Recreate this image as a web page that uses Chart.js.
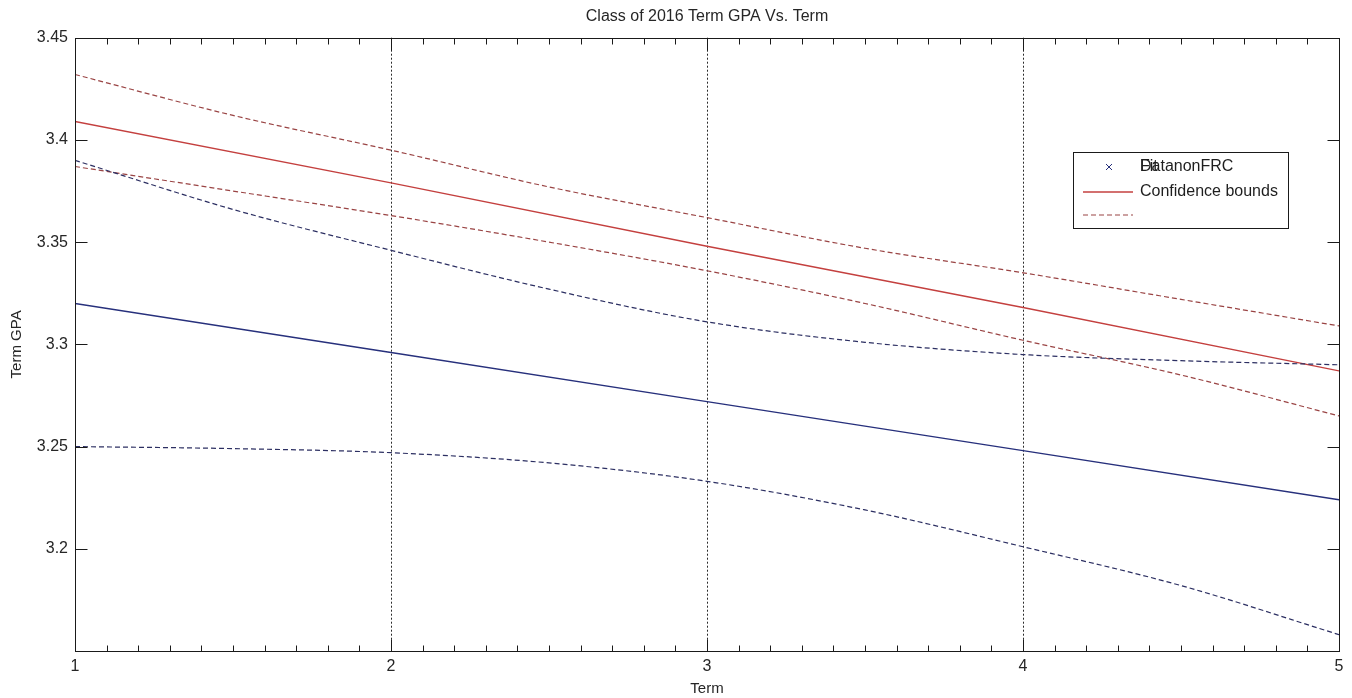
<!DOCTYPE html>
<html>
<head>
<meta charset="utf-8">
<title>Class of 2016 Term GPA Vs. Term</title>
<script src="https://cdn.jsdelivr.net/npm/chart.js@4.4.1/dist/chart.umd.min.js"></script>
<style>
  html, body { margin: 0; padding: 0; background: #fff; }
  #wrap { width: 1352px; height: 698px; position: relative; }
</style>
</head>
<body>
<div id="wrap"><canvas id="gpaChart"></canvas></div>
<script>
// terms where the curves were sampled
const TERMS = [1, 1.5, 2, 2.5, 3, 3.5, 4, 4.5, 5];
const FIT_TERMS = [1, 2, 3, 4, 5];

// nonFRC fit (blue) with its confidence bounds
const NONFRC_FIT   = [3.320, 3.296, 3.272, 3.248, 3.224];
const NONFRC_UPPER = [3.390, 3.366, 3.346, 3.327, 3.311, 3.301, 3.295, 3.292, 3.290];
const NONFRC_LOWER = [3.250, 3.249, 3.247, 3.242, 3.233, 3.219, 3.201, 3.182, 3.158];

// FRC fit (red) with its confidence bounds
const FRC_FIT   = [3.409, 3.379, 3.348, 3.318, 3.287];
const FRC_UPPER = [3.432, 3.412, 3.395, 3.377, 3.362, 3.347, 3.335, 3.322, 3.309];
const FRC_LOWER = [3.387, 3.375, 3.363, 3.350, 3.336, 3.320, 3.302, 3.285, 3.265];

const X_MIN = 1, X_MAX = 5;
const Y_MIN = 3.15, Y_MAX = 3.45, Y_STEP = 0.05;

const LEGEND_LABELS = ['DatanonFRC', 'Confidence bounds', ''];
const LEGEND_OVER = 'Fit'; // second string printed on top of the first entry

const FONT = '"Liberation Sans", Arial, sans-serif';
const TXT = '#262626';
const BLUE = '#27307c', BLUE_DASH = '#2c2f62';
const RED = '#c4403f', RED_DASH = '#9a4444';
const DASH = [5, 3];

const pts = (xs, ys) => xs.map((x, i) => ({ x, y: ys[i] }));

function lineSet(label, data, color, dashed) {
    return {
        label,
        data,
        borderColor: color,
        backgroundColor: color,
        borderWidth: dashed ? 1.2 : 1.4,
        borderDash: dashed ? DASH : [],
        pointRadius: 0,
        fill: false,
        cubicInterpolationMode: dashed ? 'monotone' : 'default'
    };
}

// box, ticks, grid and legend in the old matlab look
const matlabAxes = {
    id: 'matlabAxes',
    beforeDatasetsDraw(chart) {
        const { ctx, chartArea: a, scales: { x } } = chart;
        ctx.save();
        ctx.strokeStyle = '#2a2a2a';
        ctx.lineWidth = 1;
        ctx.setLineDash([2, 2]);
        for (let t = X_MIN + 1; t < X_MAX; t++) {
            const px = Math.round(x.getPixelForValue(t)) + 0.5;
            ctx.beginPath();
            ctx.moveTo(px, a.top);
            ctx.lineTo(px, a.bottom);
            ctx.stroke();
        }
        ctx.restore();
    },
    afterDatasetsDraw(chart) {
        const { ctx, chartArea: a, scales: { x, y } } = chart;
        ctx.save();
        ctx.strokeStyle = '#1a1a1a';
        ctx.lineWidth = 1;
        ctx.setLineDash([]);
        const L = Math.round(a.left) + 0.5, R = Math.round(a.right) + 0.5;
        const T = Math.round(a.top) + 0.5, B = Math.round(a.bottom) + 0.5;
        ctx.strokeRect(L, T, R - L, B - T);

        ctx.beginPath();
        // y ticks, both sides
        y.ticks.forEach(tk => {
            const py = Math.round(y.getPixelForValue(tk.value)) + 0.5;
            ctx.moveTo(L, py); ctx.lineTo(L + 12, py);
            ctx.moveTo(R, py); ctx.lineTo(R - 12, py);
        });
        // x ticks every 0.1, top and bottom
        for (let i = X_MIN * 10; i <= X_MAX * 10; i++) {
            const px = Math.round(x.getPixelForValue(i / 10)) + 0.5;
            const len = i % 10 === 0 ? 12 : 6;
            ctx.moveTo(px, B); ctx.lineTo(px, B - len);
            ctx.moveTo(px, T); ctx.lineTo(px, T + len);
        }
        ctx.stroke();
        ctx.restore();
    },
    afterDraw(chart) {
        const { ctx } = chart;
        const bx = 1073.5, by = 152.5, bw = 215, bh = 76;
        ctx.save();
        ctx.fillStyle = '#fff';
        ctx.fillRect(bx, by, bw, bh);
        ctx.strokeStyle = '#1a1a1a';
        ctx.lineWidth = 1;
        ctx.strokeRect(bx, by, bw, bh);

        const rows = [167, 192, 215];
        const x0 = 1083, x1 = 1133, tx = 1140;

        // data marker
        ctx.strokeStyle = BLUE;
        ctx.beginPath();
        ctx.moveTo(1106, rows[0] - 3); ctx.lineTo(1112, rows[0] + 3);
        ctx.moveTo(1112, rows[0] - 3); ctx.lineTo(1106, rows[0] + 3);
        ctx.stroke();

        ctx.lineWidth = 1.4;
        ctx.strokeStyle = RED;
        ctx.beginPath(); ctx.moveTo(x0, rows[1]); ctx.lineTo(x1, rows[1]); ctx.stroke();
        ctx.lineWidth = 1.2;
        ctx.strokeStyle = RED_DASH;
        ctx.setLineDash(DASH);
        ctx.beginPath(); ctx.moveTo(x0, rows[2]); ctx.lineTo(x1, rows[2]); ctx.stroke();
        ctx.setLineDash([]);

        ctx.font = '16px ' + FONT;
        ctx.fillStyle = '#1e1e1e';
        ctx.textBaseline = 'middle';
        ctx.textAlign = 'left';
        LEGEND_LABELS.forEach((lbl, i) => { if (lbl) ctx.fillText(lbl, tx, rows[i]); });
        ctx.fillText(LEGEND_OVER, tx, rows[0]);
        ctx.restore();
    }
};

new Chart(document.getElementById('gpaChart'), {
    type: 'line',
    data: {
        datasets: [
            lineSet('nonFRC lower', pts(TERMS, NONFRC_LOWER), BLUE_DASH, true),
            lineSet('nonFRC upper', pts(TERMS, NONFRC_UPPER), BLUE_DASH, true),
            lineSet('nonFRC fit', pts(FIT_TERMS, NONFRC_FIT), BLUE, false),
            lineSet('FRC lower', pts(TERMS, FRC_LOWER), RED_DASH, true),
            lineSet('FRC upper', pts(TERMS, FRC_UPPER), RED_DASH, true),
            lineSet('FRC fit', pts(FIT_TERMS, FRC_FIT), RED, false)
        ]
    },
    plugins: [matlabAxes],
    options: {
        responsive: true,
        maintainAspectRatio: false,
        animation: false,
        parsing: true,
        layout: { padding: { top: 0, right: 13, bottom: 0, left: 0 } },
        plugins: {
            legend: { display: false },
            tooltip: { enabled: false },
            title: {
                display: true,
                fullSize: false,
                text: 'Class of 2016 Term GPA Vs. Term',
                color: TXT,
                font: { family: FONT, size: 16, weight: 'normal' },
                padding: { top: 7, bottom: 11.5 }
            }
        },
        scales: {
            x: {
                type: 'linear',
                min: X_MIN,
                max: X_MAX,
                afterFit: s => { s.height = 47; },
                grid: { display: false, drawTicks: false },
                border: { display: false },
                ticks: {
                    stepSize: 1,
                    padding: 6,
                    color: TXT,
                    font: { family: FONT, size: 16 }
                },
                title: {
                    display: true,
                    text: 'Term',
                    color: TXT,
                    font: { family: FONT, size: 15 },
                    padding: { top: 0, bottom: 0 }
                }
            },
            y: {
                type: 'linear',
                min: Y_MIN,
                max: Y_MAX,
                afterFit: s => { s.width = 75; },
                grid: { display: false, drawTicks: false },
                border: { display: false },
                ticks: {
                    stepSize: Y_STEP,
                    padding: 7,
                    color: TXT,
                    font: { family: FONT, size: 16 },
                    callback: v => (v < Y_MIN + Y_STEP / 2 ? '' : String(Math.round(v * 100) / 100))
                },
                title: {
                    display: true,
                    text: 'Term GPA',
                    color: TXT,
                    font: { family: FONT, size: 15 },
                    padding: { top: 8, bottom: 0 }
                }
            }
        }
    }
});
</script>
</body>
</html>
